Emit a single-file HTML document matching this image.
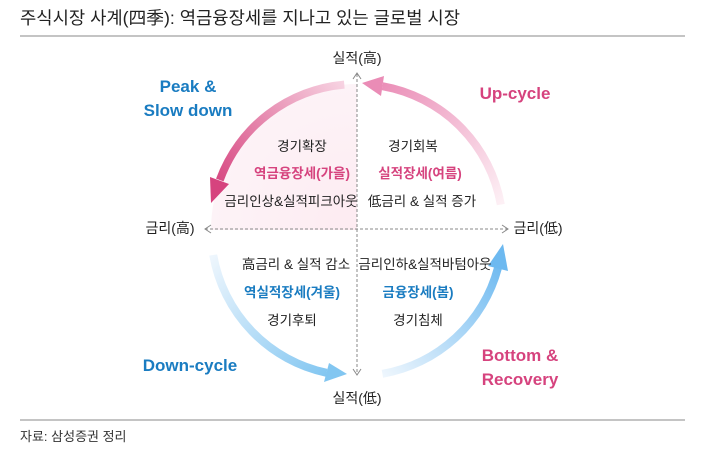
<!DOCTYPE html>
<html><head><meta charset="utf-8"><style>
body{margin:0;width:717px;height:460px;background:#fff;overflow:hidden;font-family:"Liberation Sans","Noto Sans CJK KR",sans-serif}
</style></head><body>
<svg width="717" height="460" viewBox="0 0 717 460" xmlns="http://www.w3.org/2000/svg" style="font-family:'Liberation Sans','Noto Sans CJK KR',sans-serif">
<defs>
<linearGradient id="gp" gradientUnits="userSpaceOnUse" x1="344" y1="84" x2="215" y2="190"><stop offset="0" stop-color="#f7d3e2"/><stop offset="1" stop-color="#d6437e"/></linearGradient>
<linearGradient id="gu" gradientUnits="userSpaceOnUse" x1="500" y1="205" x2="375" y2="85"><stop offset="0" stop-color="#fdf0f5"/><stop offset="1" stop-color="#ea8cb6"/></linearGradient>
<linearGradient id="gd" gradientUnits="userSpaceOnUse" x1="213" y1="255" x2="330" y2="373"><stop offset="0" stop-color="#eef6fd"/><stop offset="1" stop-color="#82c6f1"/></linearGradient>
<linearGradient id="gb" gradientUnits="userSpaceOnUse" x1="382" y1="374" x2="500" y2="260"><stop offset="0" stop-color="#eef6fd"/><stop offset="1" stop-color="#6db9f0"/></linearGradient>
<radialGradient id="fill" gradientUnits="userSpaceOnUse" cx="357" cy="230" r="146"><stop offset="0" stop-color="#fdebf1"/><stop offset="1" stop-color="#fdf3f7"/></radialGradient>
</defs>
<text x="20" y="24" font-size="17.5" fill="#222" textLength="440" lengthAdjust="spacingAndGlyphs">주식시장 사계(四季): 역금융장세를 지나고 있는 글로벌 시장</text>
<line x1="20" y1="36" x2="685" y2="36" stroke="#888" stroke-width="1"/>
<line x1="20" y1="420" x2="685" y2="420" stroke="#888" stroke-width="1"/>
<text x="20" y="441" font-size="13" fill="#333">자료: 삼성증권 정리</text>
<path d="M357 230 L211 230 A146 146 0 0 1 357 84 Z" fill="url(#fill)"/>
<line x1="357" y1="74" x2="357" y2="374" stroke="#888" stroke-width="1" stroke-dasharray="3,2"/>
<line x1="205" y1="229" x2="508" y2="229" stroke="#888" stroke-width="1" stroke-dasharray="3,2"/>
<polyline points="353,79 357,73 361,79" fill="none" stroke="#888"/>
<polyline points="353,369 357,375 361,369" fill="none" stroke="#888"/>
<polyline points="211,225 205,229 211,233" fill="none" stroke="#888"/>
<polyline points="502,225 508,229 502,233" fill="none" stroke="#888"/>
<path d="M344.3 84.6 A146 146 0 0 0 219.8 180" fill="none" stroke="url(#gp)" stroke-width="8"/>
<polygon points="211,203 210,177 229,184" fill="#d6437e"/>
<path d="M500.8 204.6 A146 146 0 0 0 382.4 86.2" fill="none" stroke="url(#gu)" stroke-width="8"/>
<polygon points="362,83 384,76 381,96" fill="#ea8cb6"/>
<path d="M213.2 255 A146 146 0 0 0 326.6 372.8" fill="none" stroke="url(#gd)" stroke-width="8"/>
<polygon points="347,374 324,382 329,363" fill="#82c6f1"/>
<path d="M382.4 373.8 A146 146 0 0 0 498 267.8" fill="none" stroke="url(#gb)" stroke-width="8"/>
<polygon points="503,244 508,271 488,266" fill="#6db9f0"/>
<g font-size="14" fill="#222" text-anchor="middle">
<text x="357" y="63">실적(高)</text>
<text x="357" y="403">실적(低)</text>
<text x="170" y="233">금리(高)</text>
<text x="538" y="233">금리(低)</text>
</g>
<g font-size="13.5" text-anchor="middle" fill="#222">
<text x="302" y="151">경기확장</text>
<text x="302" y="178" fill="#d6437e" font-weight="bold">역금융장세(가을)</text>
<text x="291" y="206">금리인상&amp;실적피크아웃</text>
<text x="413" y="151">경기회복</text>
<text x="420" y="178" fill="#d6437e" font-weight="bold">실적장세(여름)</text>
<text x="422" y="206">低금리 &amp; 실적 증가</text>
<text x="296" y="269">高금리 &amp; 실적 감소</text>
<text x="292" y="297" fill="#1a7cc1" font-weight="bold">역실적장세(겨울)</text>
<text x="292" y="325">경기후퇴</text>
<text x="425" y="269">금리인하&amp;실적바텀아웃</text>
<text x="418" y="297" fill="#1a7cc1" font-weight="bold">금융장세(봄)</text>
<text x="418" y="325">경기침체</text>
</g>
<g font-size="17" font-weight="bold" text-anchor="middle">
<text x="188" y="92" fill="#1a7cc1">Peak &amp;</text>
<text x="188" y="116" fill="#1a7cc1">Slow down</text>
<text x="515" y="99" fill="#d6437e">Up-cycle</text>
<text x="190" y="371" fill="#1a7cc1">Down-cycle</text>
<text x="520" y="361" fill="#d6437e">Bottom &amp;</text>
<text x="520" y="385" fill="#d6437e">Recovery</text>
</g>
</svg>
</body></html>
